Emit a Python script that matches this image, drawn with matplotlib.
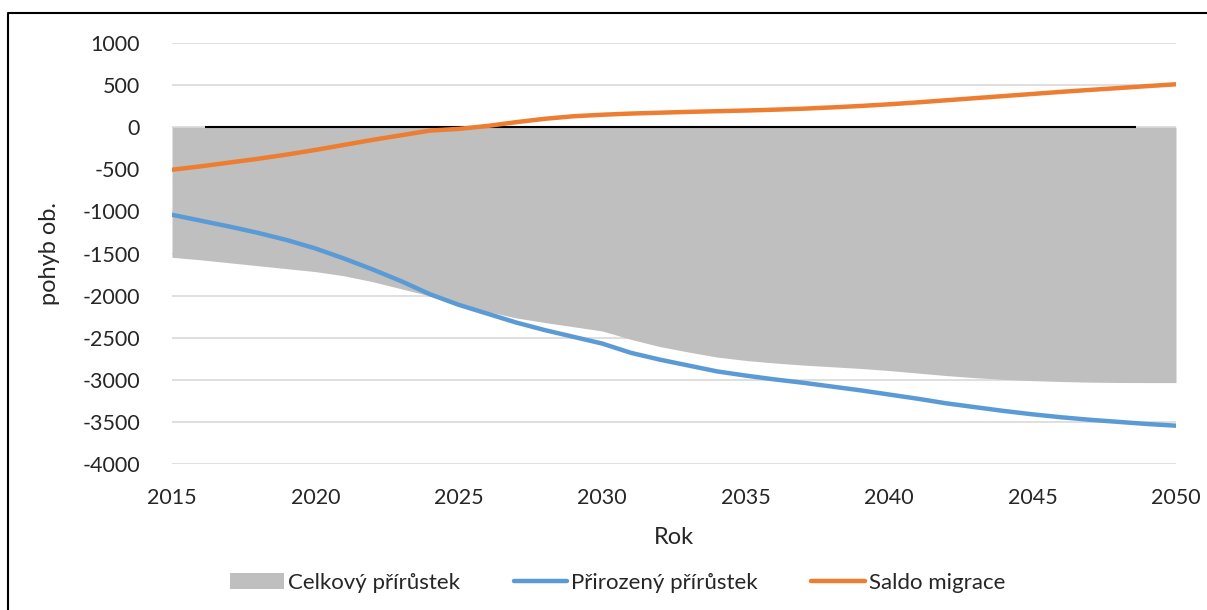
import matplotlib
matplotlib.use('Agg')
import matplotlib.pyplot as plt
from matplotlib.lines import Line2D

plt.rcParams['font.family'] = ['Lato', 'DejaVu Sans']
plt.rcParams['axes.unicode_minus'] = False

roky = list(range(2015, 2051))

# Celkovy prirustek (sede plocha)
celkovy = [-1545, -1575, -1610, -1645, -1680, -1715, -1765, -1835, -1920, -2005,
           -2100, -2190, -2265, -2320, -2370, -2420, -2520, -2605, -2670, -2730,
           -2770, -2800, -2825, -2845, -2865, -2890, -2920, -2950, -2975, -2995,
           -3010, -3020, -3028, -3032, -3033, -3033]

# Prirozeny prirustek
prirozeny = [-1040, -1110, -1180, -1255, -1340, -1440, -1560, -1690, -1830, -1985,
             -2110, -2215, -2320, -2410, -2490, -2570, -2680, -2760, -2830, -2900,
             -2950, -2995, -3035, -3080, -3125, -3175, -3225, -3280, -3325, -3370,
             -3410, -3445, -3475, -3500, -3525, -3545]

# Saldo migrace
saldo = [-505, -465, -420, -375, -325, -270, -210, -150, -95, -40,
         -20, 15, 60, 100, 130, 148, 162, 172, 182, 190,
         198, 208, 220, 235, 252, 272, 295, 320, 345, 370,
         395, 420, 443, 465, 488, 510]

y_ticks = list(range(-4000, 1001, 500))
x_ticks = list(range(2015, 2051, 5))

fig = plt.figure(figsize=(12.07, 6.10), dpi=100)
ax = fig.add_axes([172 / 1207, 1 - 464 / 610, 1004 / 1207, 421 / 610])

ax.fill_between(roky, 0, celkovy, color='#bfbfbf', linewidth=0, label='Celkový přírůstek', zorder=2)
ax.hlines(0, 2016.15, 2048.6, color='black', linewidth=1.5, zorder=3)
ax.plot(roky, prirozeny, color='#5b9bd5', linewidth=3.2, solid_capstyle='round',
        label='Přirozený přírůstek', zorder=4)
ax.plot(roky, saldo, color='#ed7d31', linewidth=3.2, solid_capstyle='round',
        label='Saldo migrace', zorder=4)

ax.set_xlim(2015, 2050)
ax.set_ylim(-4000, 1000)
ax.set_xticks(x_ticks)
ax.set_yticks(y_ticks)
ax.tick_params(length=0, labelsize=15.5, colors='#262626')
ax.tick_params(axis='y', pad=23)
ax.tick_params(axis='x', pad=17)
ax.grid(axis='y', color='#d9d9d9', linewidth=1.2, zorder=0)
ax.set_axisbelow(True)
for s in ax.spines.values():
    s.set_visible(False)

ax.set_xlabel('Rok', fontsize=17, labelpad=14, color='#262626')
ax.set_ylabel('pohyb ob.', fontsize=17, labelpad=16, color='#262626')

fig.legend(loc='center', bbox_to_anchor=(0.512, 1 - 583 / 610), ncol=3, frameon=False,
           fontsize=16, handlelength=2.4, handletextpad=0.2, columnspacing=2.4,
           labelcolor='#262626')

# ramecek grafu
fig.add_artist(Line2D([8 / 1207, 8 / 1207, 1.0], [0.0, 1 - 13 / 610, 1 - 13 / 610],
                      transform=fig.transFigure, color='black', linewidth=1.5))

fig.savefig('out.png', dpi=100)
